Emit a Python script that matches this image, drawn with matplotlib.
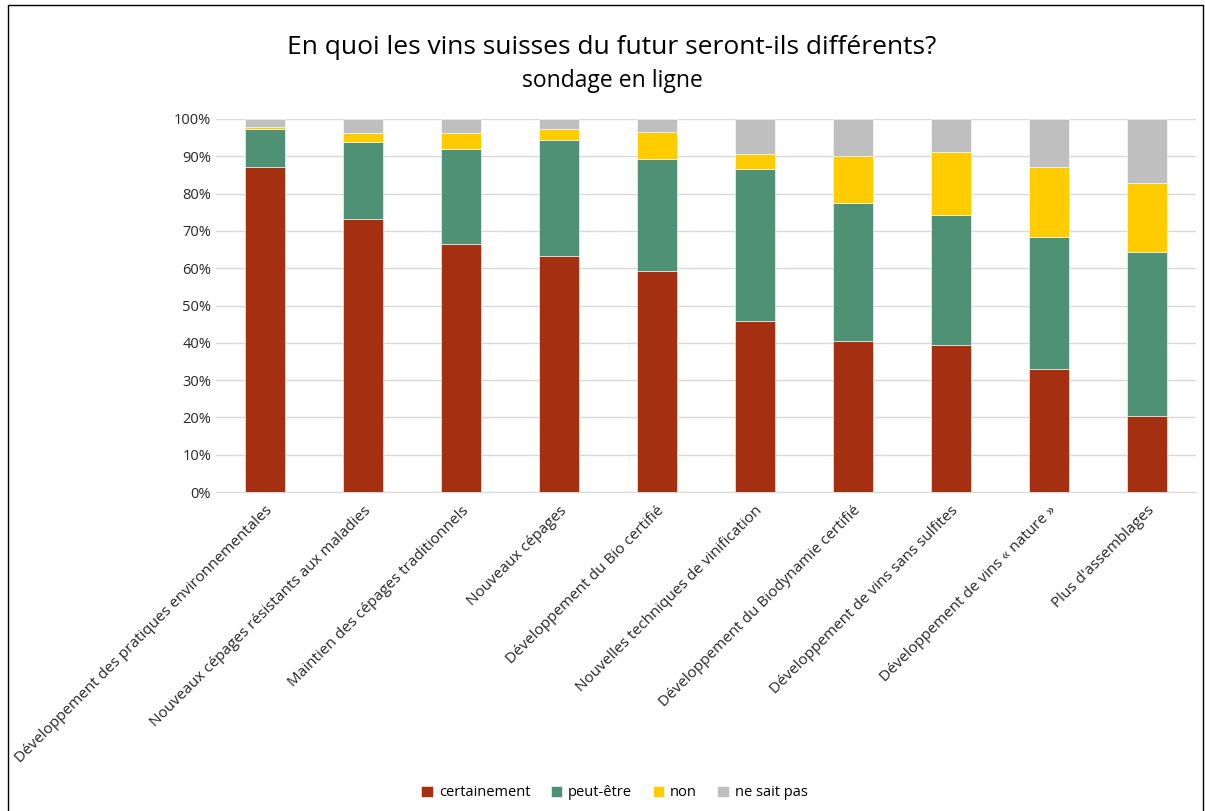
import numpy as np
import matplotlib
matplotlib.use("Agg")
import matplotlib.pyplot as plt
from matplotlib.patches import Rectangle

plt.rcParams['font.family'] = ['Open Sans', 'DejaVu Sans']

categories = [
    "Développement des pratiques environnementales",
    "Nouveaux cépages résistants aux maladies",
    "Maintien des cépages traditionnels",
    "Nouveaux cépages",
    "Développement du Bio certifié",
    "Nouvelles techniques de vinification",
    "Développement du Biodynamie certifié",
    "Développement de vins sans sulfites",
    "Développement de vins « nature »",
    "Plus d'assemblages",
]
certainement = [87.0, 73.2, 66.5, 63.3, 59.2, 45.8, 40.5, 39.4, 33.0, 20.4]
peut_etre = [10.3, 20.6, 25.5, 31.1, 30.1, 40.8, 37.0, 34.9, 35.4, 43.9]
non = [0.6, 2.4, 4.2, 2.9, 7.2, 4.0, 12.6, 16.9, 18.7, 18.5]
ne_sait_pas = [2.1, 3.8, 3.8, 2.7, 3.5, 9.4, 9.9, 8.8, 12.9, 17.2]

series = [
    ("certainement", certainement, "#A52F11"),
    ("peut-être", peut_etre, "#4F9174"),
    ("non", non, "#FFCC00"),
    ("ne sait pas", ne_sait_pas, "#BFBFBF"),
]

fig = plt.figure(figsize=(12.05, 8.11), dpi=100)
ax = fig.add_axes([216 / 1205, 1 - 492 / 811, (1196 - 216) / 1205, (492 - 119) / 811])

x = np.arange(len(categories))
bottom = np.zeros(len(categories))
for name, vals, col in series:
    ax.bar(x, vals, 0.4, bottom=bottom, color=col, label=name,
           edgecolor="white", linewidth=0.4, zorder=3)
    bottom += np.array(vals)

ax.set_xlim(-0.5, len(categories) - 0.5)
ax.set_ylim(0, 100)
ax.set_yticks(np.arange(0, 101, 10))
ax.set_yticklabels([f"{v}%" for v in range(0, 101, 10)], fontsize=10.5, color="#262626")
ax.yaxis.grid(True, color="#D9D9D9", linewidth=1, zorder=0)
ax.set_xticks(x)
ax.set_xticklabels(categories, rotation=45, ha="right", rotation_mode="anchor",
                   fontsize=11, color="#262626")
ax.tick_params(axis="both", length=0)
ax.tick_params(axis="x", pad=8)
for s in ["top", "right", "left"]:
    ax.spines[s].set_visible(False)
ax.spines["bottom"].set_color("#D9D9D9")

fig.text(0.508, 1 - 47 / 811, "En quoi les vins suisses du futur seront-ils différents?",
         ha="center", va="center", fontsize=19, color="#000000")
fig.text(0.508, 1 - 81 / 811, "sondage en ligne", ha="center", va="center",
         fontsize=16.5, color="#000000")

handles, labels = ax.get_legend_handles_labels()
fig.legend(handles, labels, loc="center", bbox_to_anchor=(0.51, 1 - 793 / 811),
           ncol=4, frameon=False, fontsize=10.5, handlelength=0.8, handleheight=0.8,
           handletextpad=0.4, columnspacing=1.4)

fig.add_artist(Rectangle((8 / 1205, -0.01), 1 - 10 / 1205, 1.01 - 5 / 811,
                         transform=fig.transFigure, fill=False,
                         edgecolor="black", linewidth=1))

fig.savefig("out.png", dpi=100)
